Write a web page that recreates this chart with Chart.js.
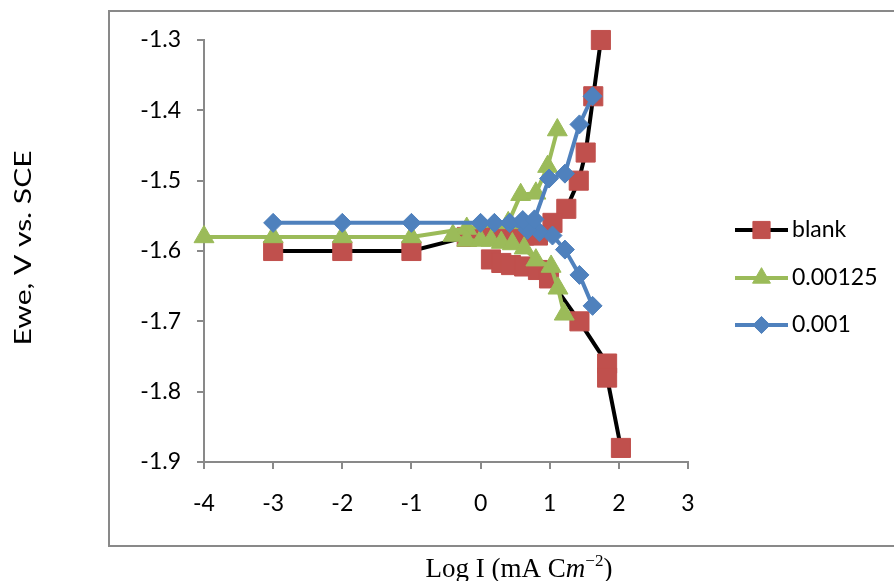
<!DOCTYPE html>
<html>
<head>
<meta charset="utf-8">
<script src="https://cdn.jsdelivr.net/npm/chart.js@4.4.1/dist/chart.umd.min.js"></script>
<style>
  body { margin: 0; background: #fff; }
  canvas { display: block; }
</style>
</head>
<body>
<canvas id="grafico" width="894" height="581"></canvas>
<script>
// blank: anodic branch (top down to the flat part), then cathodic branch
const blankAnodicX = [1.74, 1.63, 1.52, 1.42, 1.24, 1.04, 0.83, 0.63, 0.46, 0.3, 0.15, 0, -0.2, -1, -2, -3]
const blankAnodicY = [-1.3, -1.38, -1.46, -1.5, -1.54, -1.56, -1.578, -1.578, -1.578, -1.578, -1.578, -1.578, -1.58, -1.6, -1.6, -1.6]
const blankCathodicX = [0.15, 0.3, 0.44, 0.63, 0.83, 0.99, 1.43, 1.83, 1.83, 2.03]
const blankCathodicY = [-1.612, -1.617, -1.62, -1.622, -1.627, -1.639, -1.7, -1.76, -1.78, -1.88]

// 0.00125
const greenAnodicX = [-4, -3, -2, -1, -0.2, 0.4, 0.58, 0.8, 0.97, 1.11]
const greenAnodicY = [-1.58, -1.58, -1.58, -1.58, -1.568, -1.56, -1.52, -1.518, -1.48, -1.428]
const greenCathodicX = [-0.4, -0.2, 0, 0.15, 0.3, 0.46, 0.63, 0.8, 1.02, 1.12, 1.21]
const greenCathodicY = [-1.578, -1.585, -1.585, -1.585, -1.588, -1.59, -1.596, -1.613, -1.622, -1.653, -1.69]

// 0.001
const blueCathodicX = [1.62, 1.43, 1.22, 1.04, 0.85, 0.68, 0.42, 0.2, 0, -1, -2, -3]
const blueCathodicY = [-1.678, -1.634, -1.598, -1.578, -1.573, -1.57, -1.56, -1.56, -1.56, -1.56, -1.56, -1.56]
const blueAnodicX = [0.42, 0.61, 0.78, 0.99, 1.22, 1.43, 1.62]
const blueAnodicY = [-1.56, -1.556, -1.555, -1.497, -1.49, -1.42, -1.38]

const etiquetas = ['blank', '0.00125', '0.001']
const xMin = -4, xMax = 3, xPaso = 1
const yMin = -1.9, yMax = -1.3, yPaso = 0.1

const puntos = (xs, ys) => xs.map((x, i) => ({ x: x, y: ys[i] }))
const corte = { x: null, y: null }

const fuente = 'Lato'

const series = [
    {
        label: etiquetas[0],
        data: [...puntos(blankAnodicX, blankAnodicY), corte, ...puntos(blankCathodicX, blankCathodicY)],
        borderColor: '#000000',
        backgroundColor: '#C0504D',
        pointBorderColor: '#C0504D',
        pointStyle: 'rect',
        pointRadius: 13.5,
        order: 3
    },
    {
        label: etiquetas[1],
        data: [...puntos(greenAnodicX, greenAnodicY), corte, ...puntos(greenCathodicX, greenCathodicY)],
        borderColor: '#9BBB59',
        backgroundColor: '#9BBB59',
        pointBorderColor: '#9BBB59',
        pointStyle: 'triangle',
        pointRadius: 11.5,
        order: 2
    },
    {
        label: etiquetas[2],
        data: [...puntos(blueCathodicX, blueCathodicY), corte, ...puntos(blueAnodicX, blueAnodicY)],
        borderColor: '#4F81BD',
        backgroundColor: '#4F81BD',
        pointBorderColor: '#4F81BD',
        pointStyle: 'rectRot',
        pointRadius: 9.5,
        order: 1
    }
].map(s => Object.assign({
    borderWidth: 4,
    tension: 0,
    pointBorderWidth: 1,
    pointHoverRadius: s.pointRadius,
    spanGaps: false,
    fill: false,
    clip: false
}, s))

// marco, leyenda y titulos de ejes
const decorado = {
    id: 'decorado',
    beforeDraw(chart) {
        const ctx = chart.ctx
        ctx.save()
        ctx.fillStyle = '#ffffff'
        ctx.fillRect(0, 0, chart.width, chart.height)
        ctx.strokeStyle = '#898989'
        ctx.lineWidth = 2
        ctx.strokeRect(109, 11, 820, 535)
        ctx.restore()
    },
    afterDraw(chart) {
        const ctx = chart.ctx
        ctx.save()

        // leyenda
        const filas = [230, 278, 325]
        chart.data.datasets.forEach((ds, i) => {
            const y = filas[i]
            ctx.strokeStyle = ds.borderColor
            ctx.lineWidth = 4
            ctx.beginPath()
            ctx.moveTo(735, y)
            ctx.lineTo(788, y)
            ctx.stroke()
            ctx.fillStyle = ds.backgroundColor
            ctx.strokeStyle = ds.pointBorderColor
            ctx.lineWidth = 1
            Chart.helpers.drawPoint(ctx, {
                pointStyle: ds.pointStyle,
                radius: ds.pointRadius * 0.9,
                rotation: 0,
                borderWidth: 1
            }, 761.5, y)
            ctx.fillStyle = '#000'
            ctx.font = '23px ' + fuente
            ctx.textBaseline = 'middle'
            ctx.textAlign = 'left'
            ctx.fillText(ds.label, 792, y)
        })

        // titulo eje y (estirado a lo largo)
        const tituloY = 'Ewe, V vs. SCE'
        ctx.font = '24px ' + fuente
        ctx.fillStyle = '#000'
        const ancho = ctx.measureText(tituloY).width
        ctx.translate(31, 248)
        ctx.rotate(-Math.PI / 2)
        ctx.scale(195 / ancho, 1)
        ctx.textAlign = 'center'
        ctx.textBaseline = 'alphabetic'
        ctx.fillText(tituloY, 0, 0)
        ctx.setTransform(1, 0, 0, 1, 0, 0)

        // titulo eje x
        const partes = [
            { t: 'Log I (mA C', f: '27px "Liberation Serif"', dy: 0 },
            { t: 'm', f: 'italic 27px "Liberation Serif"', dy: 0 },
            { t: '\u22122', f: '17px "Liberation Serif"', dy: -11 },
            { t: ')', f: '27px "Liberation Serif"', dy: 0 }
        ]
        let total = 0
        partes.forEach(p => { ctx.font = p.f; p.w = ctx.measureText(p.t).width; total += p.w })
        let x = 519 - total / 2
        ctx.textAlign = 'left'
        partes.forEach(p => {
            ctx.font = p.f
            ctx.fillText(p.t, x, 577 + p.dy)
            x += p.w
        })
        ctx.restore()
    }
}

const ejeColor = '#898989'

new Chart(document.querySelector('#grafico'), {
    type: 'line',
    data: { datasets: series },
    options: {
        responsive: false,
        animation: false,
        devicePixelRatio: 1,
        layout: { padding: { left: 0, right: 206, top: 40, bottom: 59 } },
        plugins: {
            legend: { display: false },
            tooltip: { enabled: false }
        },
        scales: {
            x: {
                type: 'linear',
                min: xMin,
                max: xMax,
                afterFit: (s) => { s.height = 60 },
                ticks: {
                    stepSize: xPaso,
                    color: '#000',
                    font: { family: fuente, size: 23 },
                    padding: 21,
                    maxRotation: 0,
                    callback: (v) => String(Math.round(v))
                },
                grid: { drawOnChartArea: false, drawTicks: true, tickLength: 7, color: ejeColor, lineWidth: 2 },
                border: { color: ejeColor, width: 2 }
            },
            y: {
                type: 'linear',
                min: yMin,
                max: yMax,
                afterFit: (s) => { s.width = 204 },
                ticks: {
                    stepSize: yPaso,
                    color: '#000',
                    font: { family: fuente, size: 23 },
                    padding: 16,
                    callback: (v) => v.toFixed(1)
                },
                grid: { drawOnChartArea: false, drawTicks: true, tickLength: 7, color: ejeColor, lineWidth: 2 },
                border: { color: ejeColor, width: 2 }
            }
        }
    },
    plugins: [decorado]
})
</script>
</body>
</html>
